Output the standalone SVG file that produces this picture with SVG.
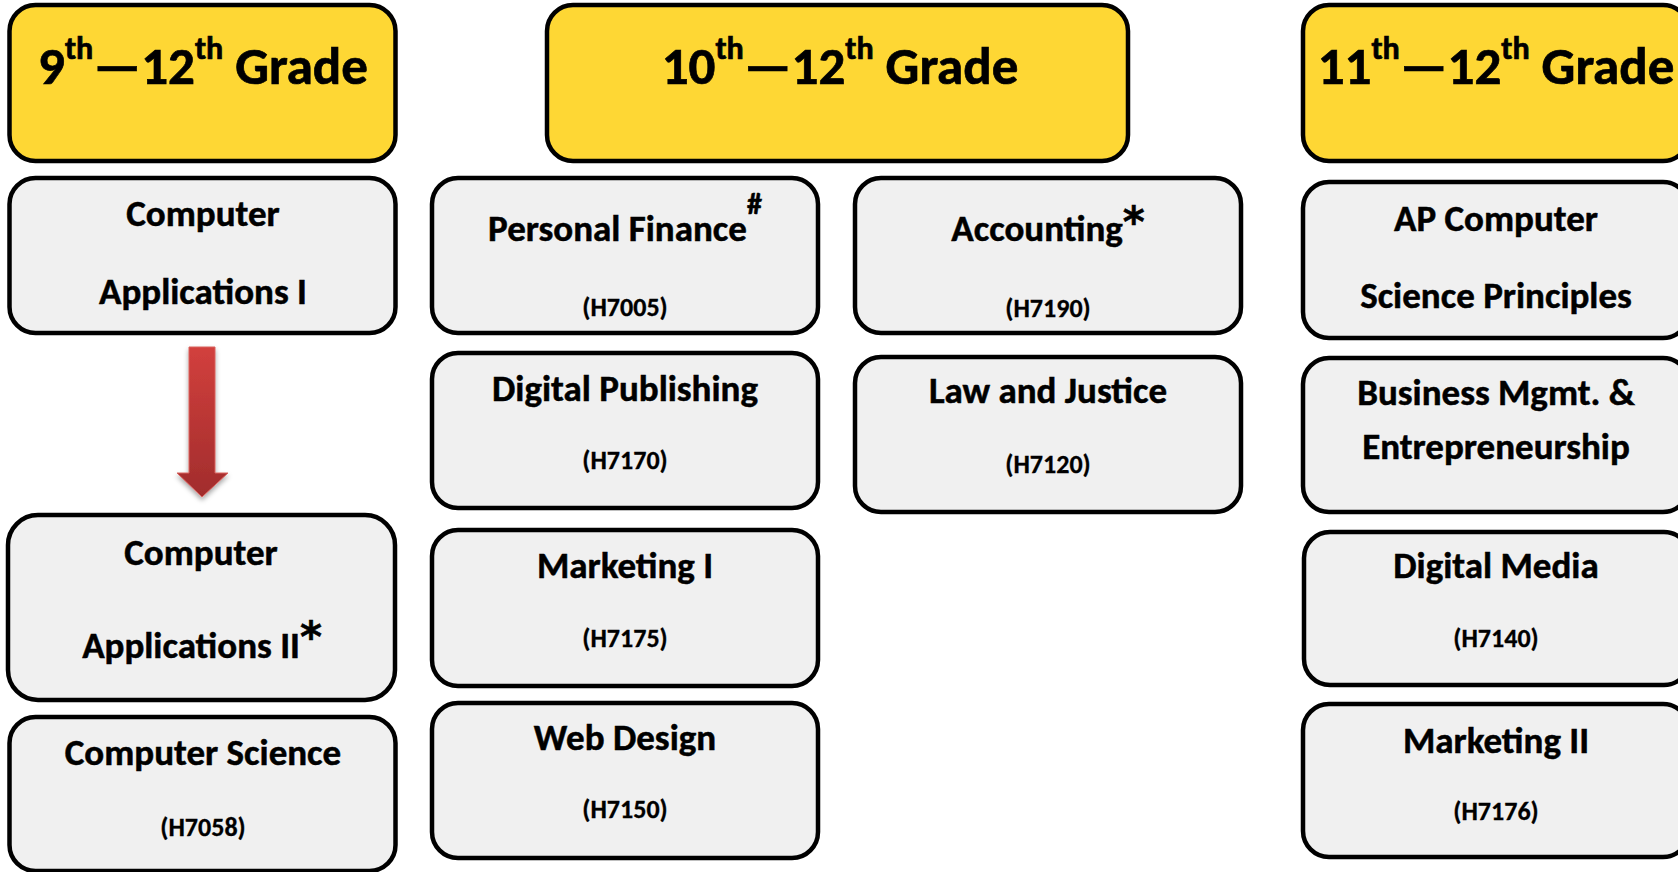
<svg xmlns="http://www.w3.org/2000/svg" width="1678" height="872" viewBox="0 0 1678 872">
<defs>
<linearGradient id="arrowGrad" x1="0" y1="0" x2="0" y2="1">
<stop offset="0" stop-color="#D2403D"/>
<stop offset="1" stop-color="#A12C2C"/>
</linearGradient>
<filter id="shadow" x="-50%" y="-20%" width="200%" height="150%">
<feDropShadow dx="0" dy="3" stdDeviation="2.5" flood-color="#000" flood-opacity="0.35"/>
</filter>
</defs>
<style>
.hdr{fill:#FED734;stroke:#000;stroke-width:4.5}
.box{fill:#F0F0F0;stroke:#000;stroke-width:4.5}
text{font-family:Carlito,Lato,"Liberation Sans",sans-serif;font-weight:700;fill:#000;stroke:#000;stroke-width:0.5;text-anchor:middle}
.h{font-size:53px;stroke-width:0.7}
.t{font-size:37px}
.c{font-size:26px;stroke-width:0.3}
.sup{font-size:32px}
.ast{font-family:"DejaVu Sans",sans-serif;font-size:42px}
.hash{font-size:30px}
.dash{letter-spacing:-3px}
</style>
<rect width="1678" height="872" fill="#fff"/>

<g id="hdr1">
<rect class="hdr" x="9.5" y="5" width="386" height="156" rx="26"/>
<text class="h" x="203" y="84">9<tspan class="sup" dy="-25">th</tspan><tspan dy="25">—12</tspan><tspan class="sup" dy="-25">th</tspan><tspan dy="25"> Grade</tspan></text>
</g>
<g id="hdr2">
<rect class="hdr" x="547" y="5" width="581" height="156" rx="26"/>
<text class="h" x="840" y="84">10<tspan class="sup" dy="-25">th</tspan><tspan dy="25">—12</tspan><tspan class="sup" dy="-25">th</tspan><tspan dy="25"> Grade</tspan></text>
</g>
<g id="hdr3">
<rect class="hdr" x="1303" y="5" width="386" height="156" rx="26"/>
<text class="h" x="1496" y="84">11<tspan class="sup" dy="-25">th</tspan><tspan dy="25">—12</tspan><tspan class="sup" dy="-25">th</tspan><tspan dy="25"> Grade</tspan></text>
</g>

<g id="ca1">
<rect class="box" x="9.5" y="178" width="386" height="155" rx="26"/>
<text class="t" x="203" y="226">Computer</text>
<text class="t" x="203" y="304">Applications I</text>
</g>
<g id="ca2">
<rect class="box" x="8" y="515" width="387" height="185" rx="30"/>
<text class="t" x="201" y="565">Computer</text>
<text class="t" x="202" y="658">Applications II<tspan class="ast" dy="-6">*</tspan></text>
</g>
<g id="cs">
<rect class="box" x="9.5" y="717" width="386" height="154" rx="26"/>
<text class="t" x="203" y="765">Computer Science</text>
<text class="c" x="203" y="836">(H7058)</text>
</g>

<g id="pf">
<rect class="box" x="432" y="178" width="386" height="155" rx="26"/>
<text class="t" x="625" y="241">Personal Finance<tspan class="hash" dy="-27">#</tspan></text>
<text class="c" x="625" y="316">(H7005)</text>
</g>
<g id="dp">
<rect class="box" x="432" y="353" width="386" height="155" rx="26"/>
<text class="t" x="625" y="401">Digital Publishing</text>
<text class="c" x="625" y="469">(H7170)</text>
</g>
<g id="m1">
<rect class="box" x="432" y="530" width="386" height="156" rx="26"/>
<text class="t" x="625" y="578">Marketing I</text>
<text class="c" x="625" y="647">(H7175)</text>
</g>
<g id="wd">
<rect class="box" x="432" y="703" width="386" height="155" rx="26"/>
<text class="t" x="625" y="750">Web Design</text>
<text class="c" x="625" y="818">(H7150)</text>
</g>

<g id="acc">
<rect class="box" x="855" y="178" width="386" height="155" rx="26"/>
<text class="t" x="1048" y="241">Accounting<tspan class="ast" dy="-4">*</tspan></text>
<text class="c" x="1048" y="317">(H7190)</text>
</g>
<g id="lj">
<rect class="box" x="855" y="357" width="386" height="155" rx="26"/>
<text class="t" x="1048" y="403">Law and Justice</text>
<text class="c" x="1048" y="473">(H7120)</text>
</g>

<g id="ap">
<rect class="box" x="1303" y="182" width="386" height="156" rx="26"/>
<text class="t" x="1496" y="231">AP Computer</text>
<text class="t" x="1496" y="308">Science Principles</text>
</g>
<g id="bme">
<rect class="box" x="1303" y="358" width="386" height="154" rx="26"/>
<text class="t" x="1496" y="405">Business Mgmt. &amp;</text>
<text class="t" x="1496" y="459">Entrepreneurship</text>
</g>
<g id="dm">
<rect class="box" x="1304" y="532" width="386" height="153" rx="26"/>
<text class="t" x="1496" y="578">Digital Media</text>
<text class="c" x="1496" y="647">(H7140)</text>
</g>
<g id="m2">
<rect class="box" x="1303" y="704" width="386" height="153" rx="26"/>
<text class="t" x="1496" y="753">Marketing II</text>
<text class="c" x="1496" y="820">(H7176)</text>
</g>

<g id="connectors">
<polygon points="189,347 215,347 215,473 228,473 202,497 177,473 189,473" fill="url(#arrowGrad)" stroke="#D9625F" stroke-width="1" filter="url(#shadow)"/>
</g>
</svg>
